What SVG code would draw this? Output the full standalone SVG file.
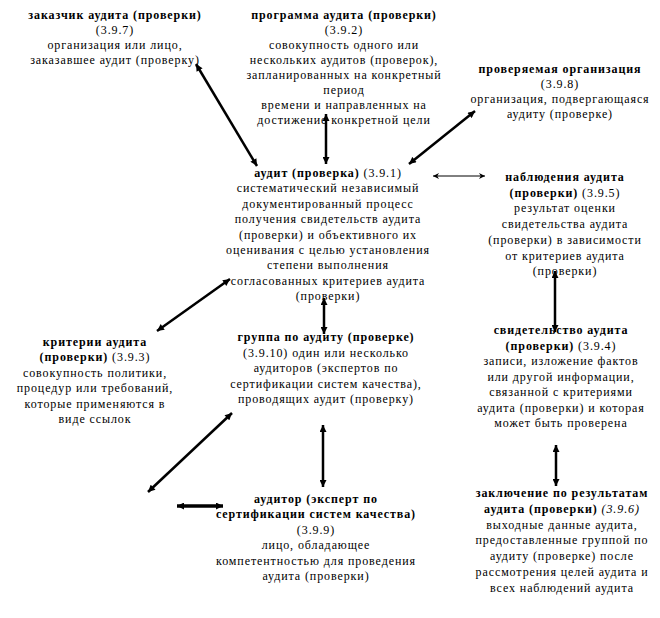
<svg xmlns="http://www.w3.org/2000/svg" width="660" height="618" viewBox="0 0 660 618">
<style>
text{font-family:"Liberation Serif","Times New Roman",serif;font-size:12px;letter-spacing:0.9px;fill:#000;text-anchor:middle}
.b{font-weight:bold}
.i{font-style:italic}
.c{fill:none;stroke:#000;stroke-width:2.5}
.t{fill:none;stroke:#000;stroke-width:1}
.w{fill:none;stroke:#000;stroke-width:3.5}
</style>
<defs>
<marker id="ah" viewBox="0 0 10 10" refX="10" refY="5" markerUnits="userSpaceOnUse" markerWidth="8" markerHeight="7" orient="auto-start-reverse"><path d="M0,0 L10,5 L0,10 z" fill="#000"/></marker>
<marker id="ahs" viewBox="0 0 10 10" refX="10" refY="5" markerUnits="userSpaceOnUse" markerWidth="8" markerHeight="6" orient="auto-start-reverse"><path d="M0,0 L10,5 L0,10 L3,5 z" fill="#000"/></marker>
</defs>
<rect width="660" height="618" fill="#fff"/>
<g id="connectors">
<line class="c" x1="196" y1="64" x2="257" y2="166" marker-start="url(#ah)" marker-end="url(#ah)"/>
<line class="c" x1="326" y1="114" x2="326" y2="164" marker-start="url(#ah)" marker-end="url(#ah)"/>
<line class="c" x1="475" y1="111" x2="409" y2="164" marker-start="url(#ah)" marker-end="url(#ah)"/>
<line class="t" x1="433" y1="176" x2="485" y2="176" marker-start="url(#ahs)" marker-end="url(#ahs)"/>
<line class="c" x1="230" y1="279" x2="157" y2="331" marker-start="url(#ah)" marker-end="url(#ah)"/>
<line class="c" x1="324" y1="298" x2="324" y2="334" marker-start="url(#ah)" marker-end="url(#ah)"/>
<line class="c" x1="555" y1="271" x2="555" y2="332" marker-start="url(#ah)" marker-end="url(#ah)"/>
<line class="c" x1="232" y1="413" x2="148" y2="492" marker-start="url(#ah)" marker-end="url(#ah)"/>
<line class="c" x1="323" y1="425" x2="323" y2="487" marker-start="url(#ah)" marker-end="url(#ah)"/>
<line class="w" x1="177" y1="506" x2="223" y2="506" marker-start="url(#ah)" marker-end="url(#ah)"/>
<line class="c" x1="556" y1="445" x2="556" y2="486" marker-start="url(#ah)" marker-end="url(#ah)"/>
</g>
<g id="n-zakazchik">
<text x="115" y="18.5"><tspan class="b">заказчик аудита (проверки)</tspan><tspan x="115" dy="15">(3.9.7)</tspan><tspan x="115" dy="15">организация или лицо,</tspan><tspan x="115" dy="15">заказавшее аудит (проверку)</tspan></text>
</g>
<g id="n-programma">
<text x="344" y="18.5"><tspan class="b">программа аудита (проверки)</tspan><tspan x="344" dy="15">(3.9.2)</tspan><tspan x="344" dy="15">совокупность одного или</tspan><tspan x="344" dy="15">нескольких аудитов (проверок),</tspan><tspan x="344" dy="15">запланированных на конкретный</tspan><tspan x="344" dy="15">период</tspan><tspan x="344" dy="15">времени и направленных на</tspan><tspan x="344" dy="15">достижение конкретной цели</tspan></text>
</g>
<g id="n-proveryaemaya">
<text x="560" y="73"><tspan class="b">проверяемая организация</tspan><tspan x="560" dy="15">(3.9.8)</tspan><tspan x="560" dy="15">организация, подвергающаяся</tspan><tspan x="560" dy="15">аудиту (проверке)</tspan></text>
</g>
<g id="n-audit">
<text x="328" y="177"><tspan class="b">аудит (проверка)</tspan><tspan> (3.9.1)</tspan><tspan x="328" dy="15.4">систематический независимый</tspan><tspan x="328" dy="15.4">документированный процесс</tspan><tspan x="328" dy="15.4">получения свидетельств аудита</tspan><tspan x="328" dy="15.4">(проверки) и объективного их</tspan><tspan x="328" dy="15.4">оценивания с целью установления</tspan><tspan x="328" dy="15.4">степени выполнения</tspan><tspan x="328" dy="15.4">согласованных критериев аудита</tspan><tspan x="328" dy="15.4">(проверки)</tspan></text>
</g>
<g id="n-nablyudeniya">
<text x="565" y="181"><tspan class="b">наблюдения аудита</tspan><tspan x="565" dy="15.7" class="b">(проверки)</tspan><tspan> (3.9.5)</tspan><tspan x="565" dy="15.7">результат оценки</tspan><tspan x="565" dy="15.7">свидетельства аудита</tspan><tspan x="565" dy="15.7">(проверки) в зависимости</tspan><tspan x="565" dy="15.7">от критериев аудита</tspan><tspan x="565" dy="15.7">(проверки)</tspan></text>
</g>
<g id="n-kriterii">
<text x="95" y="346"><tspan class="b">критерии аудита</tspan><tspan x="95" dy="15.4" class="b">(проверки)</tspan><tspan> (3.9.3)</tspan><tspan x="95" dy="15.4">совокупность политики,</tspan><tspan x="95" dy="15.4">процедур или требований,</tspan><tspan x="95" dy="15.4">которые применяются в</tspan><tspan x="95" dy="15.4">виде ссылок</tspan></text>
</g>
<g id="n-gruppa">
<text x="326" y="341"><tspan class="b">группа по аудиту (проверке)</tspan><tspan x="326" dy="15.5">(3.9.10) один или несколько</tspan><tspan x="326" dy="15.5">аудиторов (экспертов по</tspan><tspan x="326" dy="15.5">сертификации систем качества),</tspan><tspan x="326" dy="15.5">проводящих аудит (проверку)</tspan></text>
</g>
<g id="n-svidetelstvo">
<text x="561" y="334"><tspan class="b">свидетельство аудита</tspan><tspan x="561" dy="15.5" class="b">(проверки)</tspan><tspan> (3.9.4)</tspan><tspan x="561" dy="15.5">записи, изложение фактов</tspan><tspan x="561" dy="15.5">или другой информации,</tspan><tspan x="561" dy="15.5">связанной с критериями</tspan><tspan x="561" dy="15.5">аудита (проверки) и которая</tspan><tspan x="561" dy="15.5">может быть проверена</tspan></text>
</g>
<g id="n-auditor">
<text x="316" y="503"><tspan class="b">аудитор (эксперт по</tspan><tspan x="316" dy="15.4" class="b">сертификации систем качества)</tspan><tspan x="316" dy="15.4">(3.9.9)</tspan><tspan x="316" dy="15.4">лицо, обладающее</tspan><tspan x="316" dy="15.4">компетентностью для проведения</tspan><tspan x="316" dy="15.4">аудита (проверки)</tspan></text>
</g>
<g id="n-zaklyuchenie">
<text x="562" y="497"><tspan class="b">заключение по результатам</tspan><tspan x="562" dy="15.8" class="b">аудита (проверки)</tspan><tspan class="i"> (3.9.6)</tspan><tspan x="562" dy="15.8">выходные данные аудита,</tspan><tspan x="562" dy="15.8">предоставленные группой по</tspan><tspan x="562" dy="15.8">аудиту (проверке) после</tspan><tspan x="562" dy="15.8">рассмотрения целей аудита и</tspan><tspan x="562" dy="15.8">всех наблюдений аудита</tspan></text>
</g>
</svg>
